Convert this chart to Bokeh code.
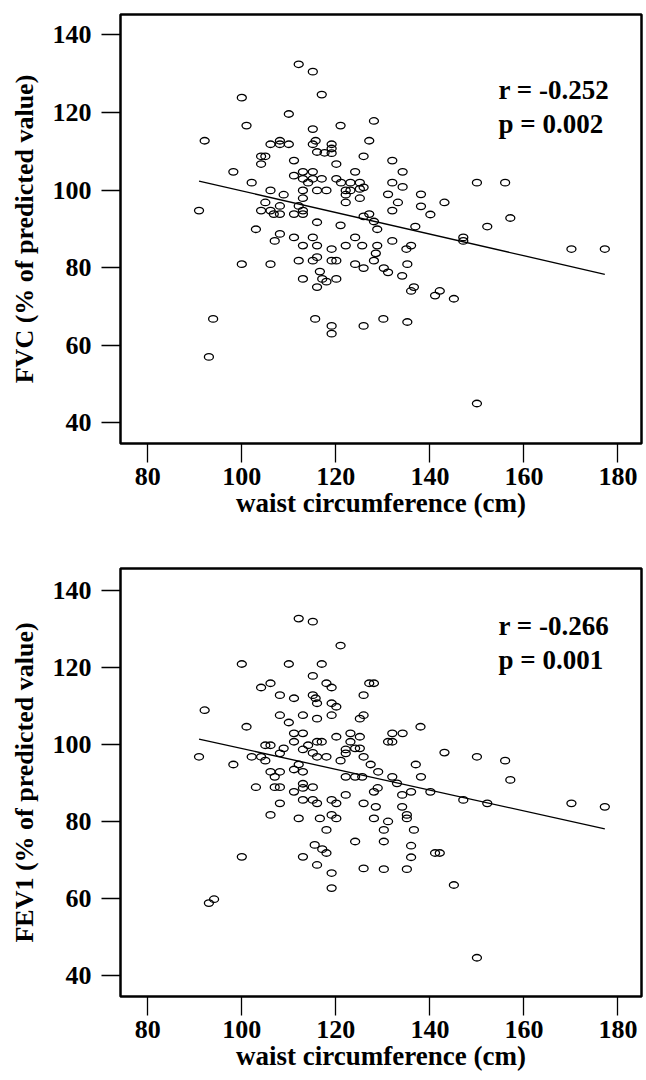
from bokeh.plotting import figure
from bokeh.layouts import column
from bokeh.models import FixedTicker, Range1d
from bokeh.core.properties import value
from bokeh.embed import file_html
from bokeh.resources import INLINE

# ---- data: top panel (FVC) ----
fvc_waist = [112.1, 115.1, 117.0, 100.0, 110.0, 101.0, 121.0, 128.1, 115.1, 92.1,
             106.1, 108.1, 108.1, 110.0, 115.7, 115.1, 117.6, 119.1, 119.1, 119.1,
             116.0, 127.1, 125.9, 104.1, 105.0, 104.1, 111.1, 120.1, 98.2, 124.1,
             113.0, 115.1, 111.1, 113.0, 115.1, 117.0, 120.1, 102.1, 121.1, 123.1,
             125.1, 114.1, 125.9, 125.1, 122.1, 123.1, 106.1, 113.0, 116.0, 118.0,
             108.9, 122.1, 113.0, 125.1, 122.1, 105.0, 108.1, 112.1, 90.9, 104.1,
             106.1, 113.0, 106.8, 108.1, 111.1, 113.0, 125.9, 127.1, 128.1, 116.0,
             121.0, 103.0, 108.1, 107.0, 111.1, 115.1, 113.0, 116.0, 119.1, 122.1,
             124.1, 125.6, 128.8, 128.8, 128.5, 128.1, 130.2, 100.0, 106.1, 112.1,
             115.1, 116.0, 119.1, 120.1, 124.1, 125.9, 116.6, 113.0, 117.1, 118.0,
             120.1, 116.0, 93.9, 115.6, 119.1, 119.1, 125.9, 130.1, 93.0, 136.9,
             152.2, 132.0, 135.0, 136.0, 135.2, 131.1, 134.1, 136.6, 136.0, 142.1,
             141.1, 145.1, 135.2, 147.1, 147.1, 170.1, 177.2, 150.0, 132.0, 134.2,
             132.0, 134.2, 131.1, 133.2, 132.0, 138.1, 138.1, 140.1, 143.1, 150.0,
             156.0, 157.1]
fvc_pct = [132.4, 130.5, 124.6, 123.8, 119.6, 116.6, 116.6, 117.8, 115.7, 112.7,
           111.8, 112.7, 111.8, 111.8, 112.7, 111.8, 109.6, 111.8, 110.7, 109.5,
           109.8, 112.7, 108.7, 108.7, 108.7, 106.7, 107.6, 106.7, 104.7, 104.7,
           104.7, 104.7, 103.7, 102.9, 102.9, 102.9, 102.9, 101.9, 101.9, 101.9,
           101.9, 101.9, 100.7, 100.3, 99.9, 99.9, 99.9, 99.9, 99.9, 99.9,
           98.8, 98.8, 97.9, 97.9, 96.8, 96.8, 95.9, 95.9, 94.7, 94.7,
           94.7, 94.7, 93.8, 93.8, 93.8, 93.8, 93.2, 93.8, 91.9, 91.7,
           90.9, 89.9, 88.7, 86.9, 87.8, 87.8, 85.7, 85.7, 84.8, 85.7,
           87.8, 85.7, 85.7, 89.9, 83.7, 81.8, 79.9, 80.9, 80.9, 81.8,
           81.8, 82.7, 81.8, 81.8, 80.9, 79.9, 79.0, 77.1, 77.1, 76.4,
           77.1, 75.0, 66.8, 66.8, 65.0, 63.0, 65.0, 66.8, 57.0, 90.6,
           90.6, 86.9, 84.8, 85.7, 80.9, 78.8, 77.9, 75.0, 74.0, 74.0,
           72.8, 72.0, 66.0, 87.8, 86.9, 84.8, 84.8, 45.0, 107.6, 104.7,
           101.9, 100.8, 98.9, 96.8, 94.7, 98.9, 95.8, 93.7, 96.8, 101.9,
           101.9, 92.8]
fvc_fit_x = [90.9, 177.2]
fvc_fit_y = [102.3, 78.3]
fvc_r_text = "r = -0.252"
fvc_p_text = "p = 0.002"

# ---- data: bottom panel (FEV1) ----
fev_waist = [112.1, 115.1, 121.0, 100.0, 110.0, 117.0, 115.1, 104.1, 106.1, 118.0,
             119.1, 127.1, 128.1, 92.1, 101.0, 108.1, 111.1, 115.1, 115.7, 116.0,
             119.1, 120.1, 125.9, 108.1, 110.0, 113.0, 116.0, 119.1, 125.1, 125.9,
             111.1, 113.0, 111.1, 105.0, 106.1, 108.9, 108.1, 114.1, 116.0, 117.0,
             113.0, 115.1, 116.0, 118.0, 120.1, 123.1, 125.1, 123.1, 122.1, 124.1,
             125.1, 122.1, 125.9, 121.0, 127.4, 129.0, 90.9, 98.2, 102.1, 104.1,
             105.0, 112.1, 111.1, 113.0, 106.1, 108.1, 107.0, 122.1, 124.1, 125.6,
             103.0, 107.0, 108.1, 111.1, 113.0, 113.0, 115.1, 113.0, 115.1, 116.0,
             119.1, 120.1, 122.1, 128.1, 128.9, 125.9, 128.5, 128.1, 108.1, 106.1,
             112.1, 116.6, 119.1, 120.1, 118.0, 115.5, 117.1, 118.0, 124.1, 100.0,
             113.0, 116.0, 119.1, 119.1, 125.9, 93.0, 94.1, 133.0, 134.1, 136.0,
             140.1, 131.1, 134.1, 135.1, 135.1, 130.2, 136.6, 130.2, 136.0, 136.0,
             141.1, 142.1, 130.2, 135.1, 145.1, 147.1, 152.2, 170.1, 177.2, 150.0,
             138.0, 132.0, 134.2, 131.1, 132.0, 143.1, 150.0, 156.0, 157.1, 137.0,
             138.1, 132.0]
fev_pct = [132.8, 132.0, 125.8, 121.0, 121.0, 121.0, 117.9, 114.9, 116.0, 116.0,
           114.9, 116.0, 116.0, 109.0, 104.7, 112.9, 112.1, 112.9, 112.1, 110.8,
           110.8, 109.9, 112.9, 107.7, 105.8, 107.7, 106.8, 107.7, 106.8, 107.7,
           103.0, 103.0, 100.8, 99.9, 99.9, 99.1, 97.8, 99.9, 100.8, 100.8,
           98.8, 97.9, 96.9, 96.9, 102.1, 103.0, 102.1, 100.8, 98.8, 99.1,
           99.1, 97.8, 96.9, 95.9, 94.9, 93.0, 96.9, 94.9, 96.9, 96.9,
           95.9, 94.9, 93.6, 93.0, 93.0, 93.0, 91.7, 91.7, 91.7, 91.7,
           89.0, 89.0, 89.0, 87.8, 89.9, 88.8, 89.0, 85.7, 85.7, 84.8,
           85.7, 84.8, 87.0, 87.8, 88.8, 84.8, 83.9, 80.9, 84.8, 81.8,
           80.9, 80.9, 81.8, 80.9, 77.9, 74.0, 72.9, 71.9, 74.9, 70.9,
           70.9, 68.8, 66.7, 62.8, 67.9, 58.9, 59.9, 90.0, 87.0, 87.8,
           87.8, 80.1, 83.9, 81.8, 80.9, 77.9, 77.9, 74.9, 73.8, 70.8,
           71.9, 71.9, 67.7, 67.7, 63.6, 85.7, 84.8, 84.8, 83.9, 44.7,
           104.7, 103.0, 103.0, 100.8, 100.8, 98.0, 96.9, 95.9, 90.9, 94.9,
           91.7, 91.7]
fev_fit_x = [90.9, 177.2]
fev_fit_y = [101.5, 78.2]
fev_r_text = "r = -0.266"
fev_p_text = "p = 0.001"

x_ticks = [80, 100, 120, 140, 160, 180]
y_ticks = [40, 60, 80, 100, 120, 140]

FONT = "Liberation Serif"
X0, X1 = 74.2, 185.0


def make_panel(xs, ys, fx, fy, rtext, ptext, ylabel, yr, text_y, top_b, min_bottom, fh):
    p = figure(frame_width=521, frame_height=fh,
               x_range=Range1d(X0, X1), y_range=Range1d(*yr),
               output_backend="svg", toolbar_location=None,
               min_border_left=120, min_border_right=3,
               min_border_top=top_b, min_border_bottom=min_bottom)
    p.grid.visible = False
    p.background_fill_color = "white"
    p.border_fill_color = "white"
    p.outline_line_color = "black"
    p.outline_line_width = 2.5
    p.outline_line_alpha = 1.0

    p.ellipse(x=xs, y=ys, width=9, height=6.5,
              width_units="screen", height_units="screen",
              fill_color=None, line_color="black", line_width=1.3)
    p.line(fx, fy, line_color="black", line_width=1.3)

    p.text(x=[154.6], y=[text_y[0]], text=[rtext], text_font=value(FONT),
           text_font_style="bold", text_font_size="27px",
           text_color="black", text_baseline="alphabetic", text_align="left")
    p.text(x=[154.6], y=[text_y[1]], text=[ptext], text_font=value(FONT),
           text_font_style="bold", text_font_size="27px",
           text_color="black", text_baseline="alphabetic", text_align="left")

    for ax in (p.xaxis[0], p.yaxis[0]):
        ax.axis_line_color = None
        ax.major_tick_out = 19
        ax.major_tick_in = 0
        ax.major_tick_line_width = 1.3
        ax.major_tick_line_color = "black"
        ax.minor_tick_line_color = None
        ax.major_label_text_font = FONT
        ax.major_label_text_font_style = "bold"
        ax.major_label_text_font_size = "26px"
        ax.major_label_text_color = "black"
        ax.axis_label_text_font = FONT
        ax.axis_label_text_font_style = "bold"
        ax.axis_label_text_color = "black"

    p.xaxis.axis_label_text_font_size = "27px"
    p.yaxis.axis_label_text_font_size = "26px"
    p.xaxis.ticker = FixedTicker(ticks=x_ticks)
    p.yaxis.ticker = FixedTicker(ticks=y_ticks)
    p.xaxis.axis_label = "waist circumference (cm)"
    p.yaxis.axis_label = ylabel
    p.xaxis.major_label_standoff = 5
    p.xaxis.axis_label_standoff = 0
    p.yaxis.major_label_standoff = 10
    p.yaxis.axis_label_standoff = 11
    return p


top = make_panel(fvc_waist, fvc_pct, fvc_fit_x, fvc_fit_y, fvc_r_text, fvc_p_text,
                 "FVC (% of predicted value)", (34.70, 145.23), (125.7, 117.1), 14, 119, 429)
bottom = make_panel(fev_waist, fev_pct, fev_fit_x, fev_fit_y, fev_r_text, fev_p_text,
                    "FEV1 (% of predicted value)", (34.63, 145.81), (130.8, 122.0), 6, 80, 428)

layout = column(top, bottom, spacing=0)
open("out.html", "w").write(file_html(layout, INLINE))
